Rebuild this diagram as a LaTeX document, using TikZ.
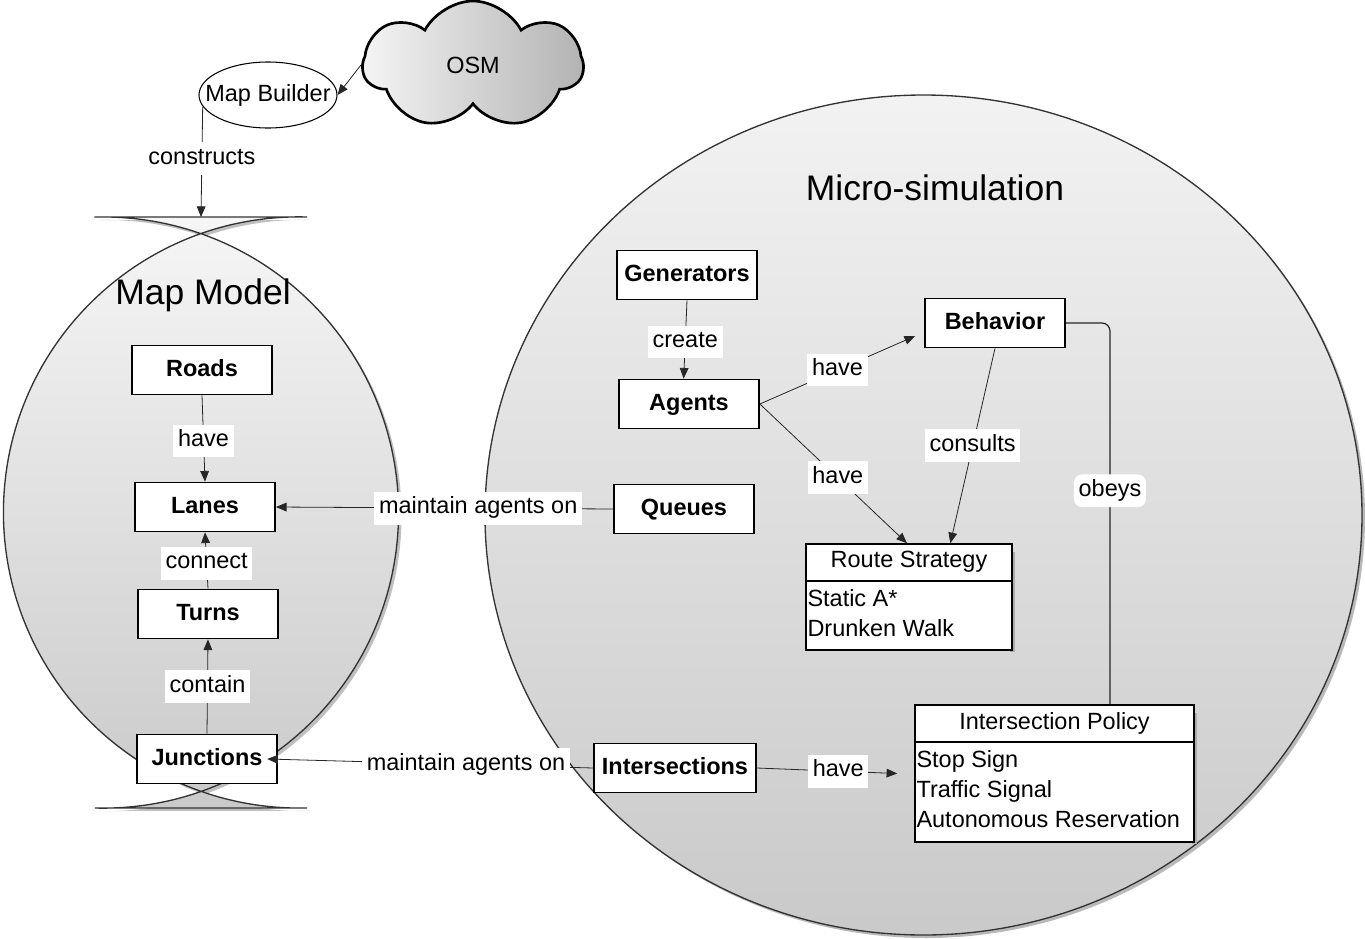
\documentclass[tikz,border=0pt]{standalone}
\usepackage{fontspec}
\setmainfont{Liberation Sans}
\usetikzlibrary{arrows.meta,shapes.geometric,shapes.symbols}

\definecolor{shadelight}{gray}{0.95}
\definecolor{shadedark}{gray}{0.79}
\definecolor{edgegray}{gray}{0.2}
\newcommand{\diafont}{\fontsize{17.6}{22.5}\selectfont}
\newcommand{\diatitle}{\fontsize{26.6}{32}\selectfont}

\begin{document}
\begin{tikzpicture}[x=0.75pt, y=-0.75pt, font=\diafont,
  entity/.style={draw, line width=1.3pt, fill=white, minimum width=105pt, minimum height=36.75pt,
    text height=12.5pt, text depth=3.5pt, font=\diafont\bfseries},
  classbox/.style={draw, line width=1.1pt, fill=white},
  rel/.style={draw=black!85, line width=0.6pt},
  relarrow/.style={rel, -{Triangle[length=8pt,width=6.5pt]}},
  lbl/.style={fill=white, inner xsep=3.5pt, inner ysep=4pt, text height=12.5pt, text depth=4pt}]

   \useasboundingbox (0,0) rectangle (1365,939);

   % micro-simulation
   \fill[gray!55] (926.5,518) ellipse [x radius=438.5, y radius=420];
   \shade[top color=shadelight, bottom color=shadedark, draw=edgegray, line width=1pt]
     (923.5,515) ellipse [x radius=438.5, y radius=420];

   % map model
   \fill[gray!50, shift={(3,3)}] (95,217) -- (307,217)
     arc[start angle=271.55, end angle=88.45, radius=295.6] -- (95,808)
     arc[start angle=91.55, end angle=-91.55, radius=295.6] -- cycle;
   \shade[top color=gray!7, bottom color=shadedark, draw=edgegray, line width=1pt] (95,217) -- (307,217)
     arc[start angle=271.55, end angle=88.45, radius=295.6] -- (95,808)
     arc[start angle=91.55, end angle=-91.55, radius=295.6] -- cycle;
   \coordinate (mmtop) at (201,217);

   \node[font=\diatitle] (mapmodeltitle) at (203,295) {Map Model};
   \node[font=\diatitle] (microtitle) at (935,188) {Micro-simulation};

   % sources
   \node[cloud, cloud puffs=7, cloud puff arc=125, aspect=1.7, minimum width=165pt, minimum height=96pt,
     draw, line width=2pt, left color=gray!8, right color=gray!60] (osm) at (473,65) {OSM};
   \node[ellipse, draw, line width=0.8pt, fill=white, minimum width=103.5pt, minimum height=49.5pt,
     inner sep=0pt] (mapbuilder) at (268,95) {\raisebox{2pt}{\makebox[0pt]{Map Builder}}};

   % entities
   \node[entity] (roads) at (202,370) {Roads};
   \node[entity] (lanes) at (205,507) {Lanes};
   \node[entity] (turns) at (208,614) {Turns};
   \node[entity] (junctions) at (207,759) {Junctions};
   \node[entity] (generators) at (687,275) {Generators};
   \node[entity] (agents) at (689,404) {Agents};
   \node[entity] (behavior) at (995,323) {Behavior};
   \node[entity] (queues) at (684,509) {Queues};
   \node[entity, minimum width=121.5pt] (intersections) at (675,768) {Intersections};

   % class boxes
   \fill[gray!65] (1010,552) rectangle (1015,652);
   \node[classbox, minimum width=154.5pt, minimum height=79.5pt] (route) at (909,597) {};
   \node[anchor=north, minimum height=27.75pt, inner sep=0pt] (routehead) at (route.north) {Route Strategy};
   \draw[line width=1.1pt] (routehead.south -| route.west) -- (routehead.south -| route.east);
   \node[anchor=north west, align=left, inner xsep=1.5pt, inner ysep=6.5pt] (routebody)
     at (routehead.south -| route.west) {Static A*\\Drunken Walk};

   \fill[gray!65] (1192,713) rectangle (1197,844);
   \node[classbox, minimum width=209.25pt, minimum height=102.75pt] (policy) at (1054.5,773.5) {};
   \node[anchor=north, minimum height=27.75pt, inner sep=0pt] (policyhead) at (policy.north) {Intersection Policy};
   \draw[line width=1.1pt] (policyhead.south -| policy.west) -- (policyhead.south -| policy.east);
   \node[anchor=north west, align=left, inner xsep=1.5pt, inner ysep=6pt] (policybody)
     at (policyhead.south -| policy.west) {Stop Sign\\Traffic Signal\\Autonomous Reservation};

   % relations
   \draw[relarrow] (osm.west) -- (mapbuilder.east);
   \draw[relarrow] (mapbuilder.190) -- (mmtop) node[pos=0.47, lbl] {constructs};
   \draw[relarrow] (roads.south) -- (lanes.north) node[pos=0.53, lbl] {have};
   \draw[relarrow] (turns.north) -- (lanes.south) node[pos=0.45, lbl] {connect};
   \draw[relarrow] (junctions.north) -- (turns.south) node[midway, lbl] {contain};
   \draw[relarrow] (queues.west) -- (lanes.east) node[pos=0.4, lbl] {maintain agents on};
   \draw[relarrow] (intersections.west) -- ([xshift=-8pt]junctions.east) node[pos=0.39, lbl] {maintain agents on};
   \draw[relarrow] (generators.south) -- ([xshift=-4pt]agents.north) node[pos=0.53, lbl] {create};
   \draw[relarrow] (agents.east) -- ([shift={(-9,13)}]behavior.west) node[midway, lbl] {have};
   \draw[relarrow] (agents.east) -- ([xshift=-1.5pt]route.north) node[pos=0.53, lbl] {have};
   \draw[relarrow] (behavior.south) -- ([xshift=31pt]route.north) node[midway, lbl] {consults};
   \draw[rel, line width=0.9pt, rounded corners=6pt] (behavior.east) -| ([xshift=41.6pt]policy.north)
     node[pos=0.72, lbl] {obeys};
   \draw[relarrow] (intersections.east) -- ([xshift=-12.75pt]policy.west) node[pos=0.58, lbl] {have};

\end{tikzpicture}
\end{document}
